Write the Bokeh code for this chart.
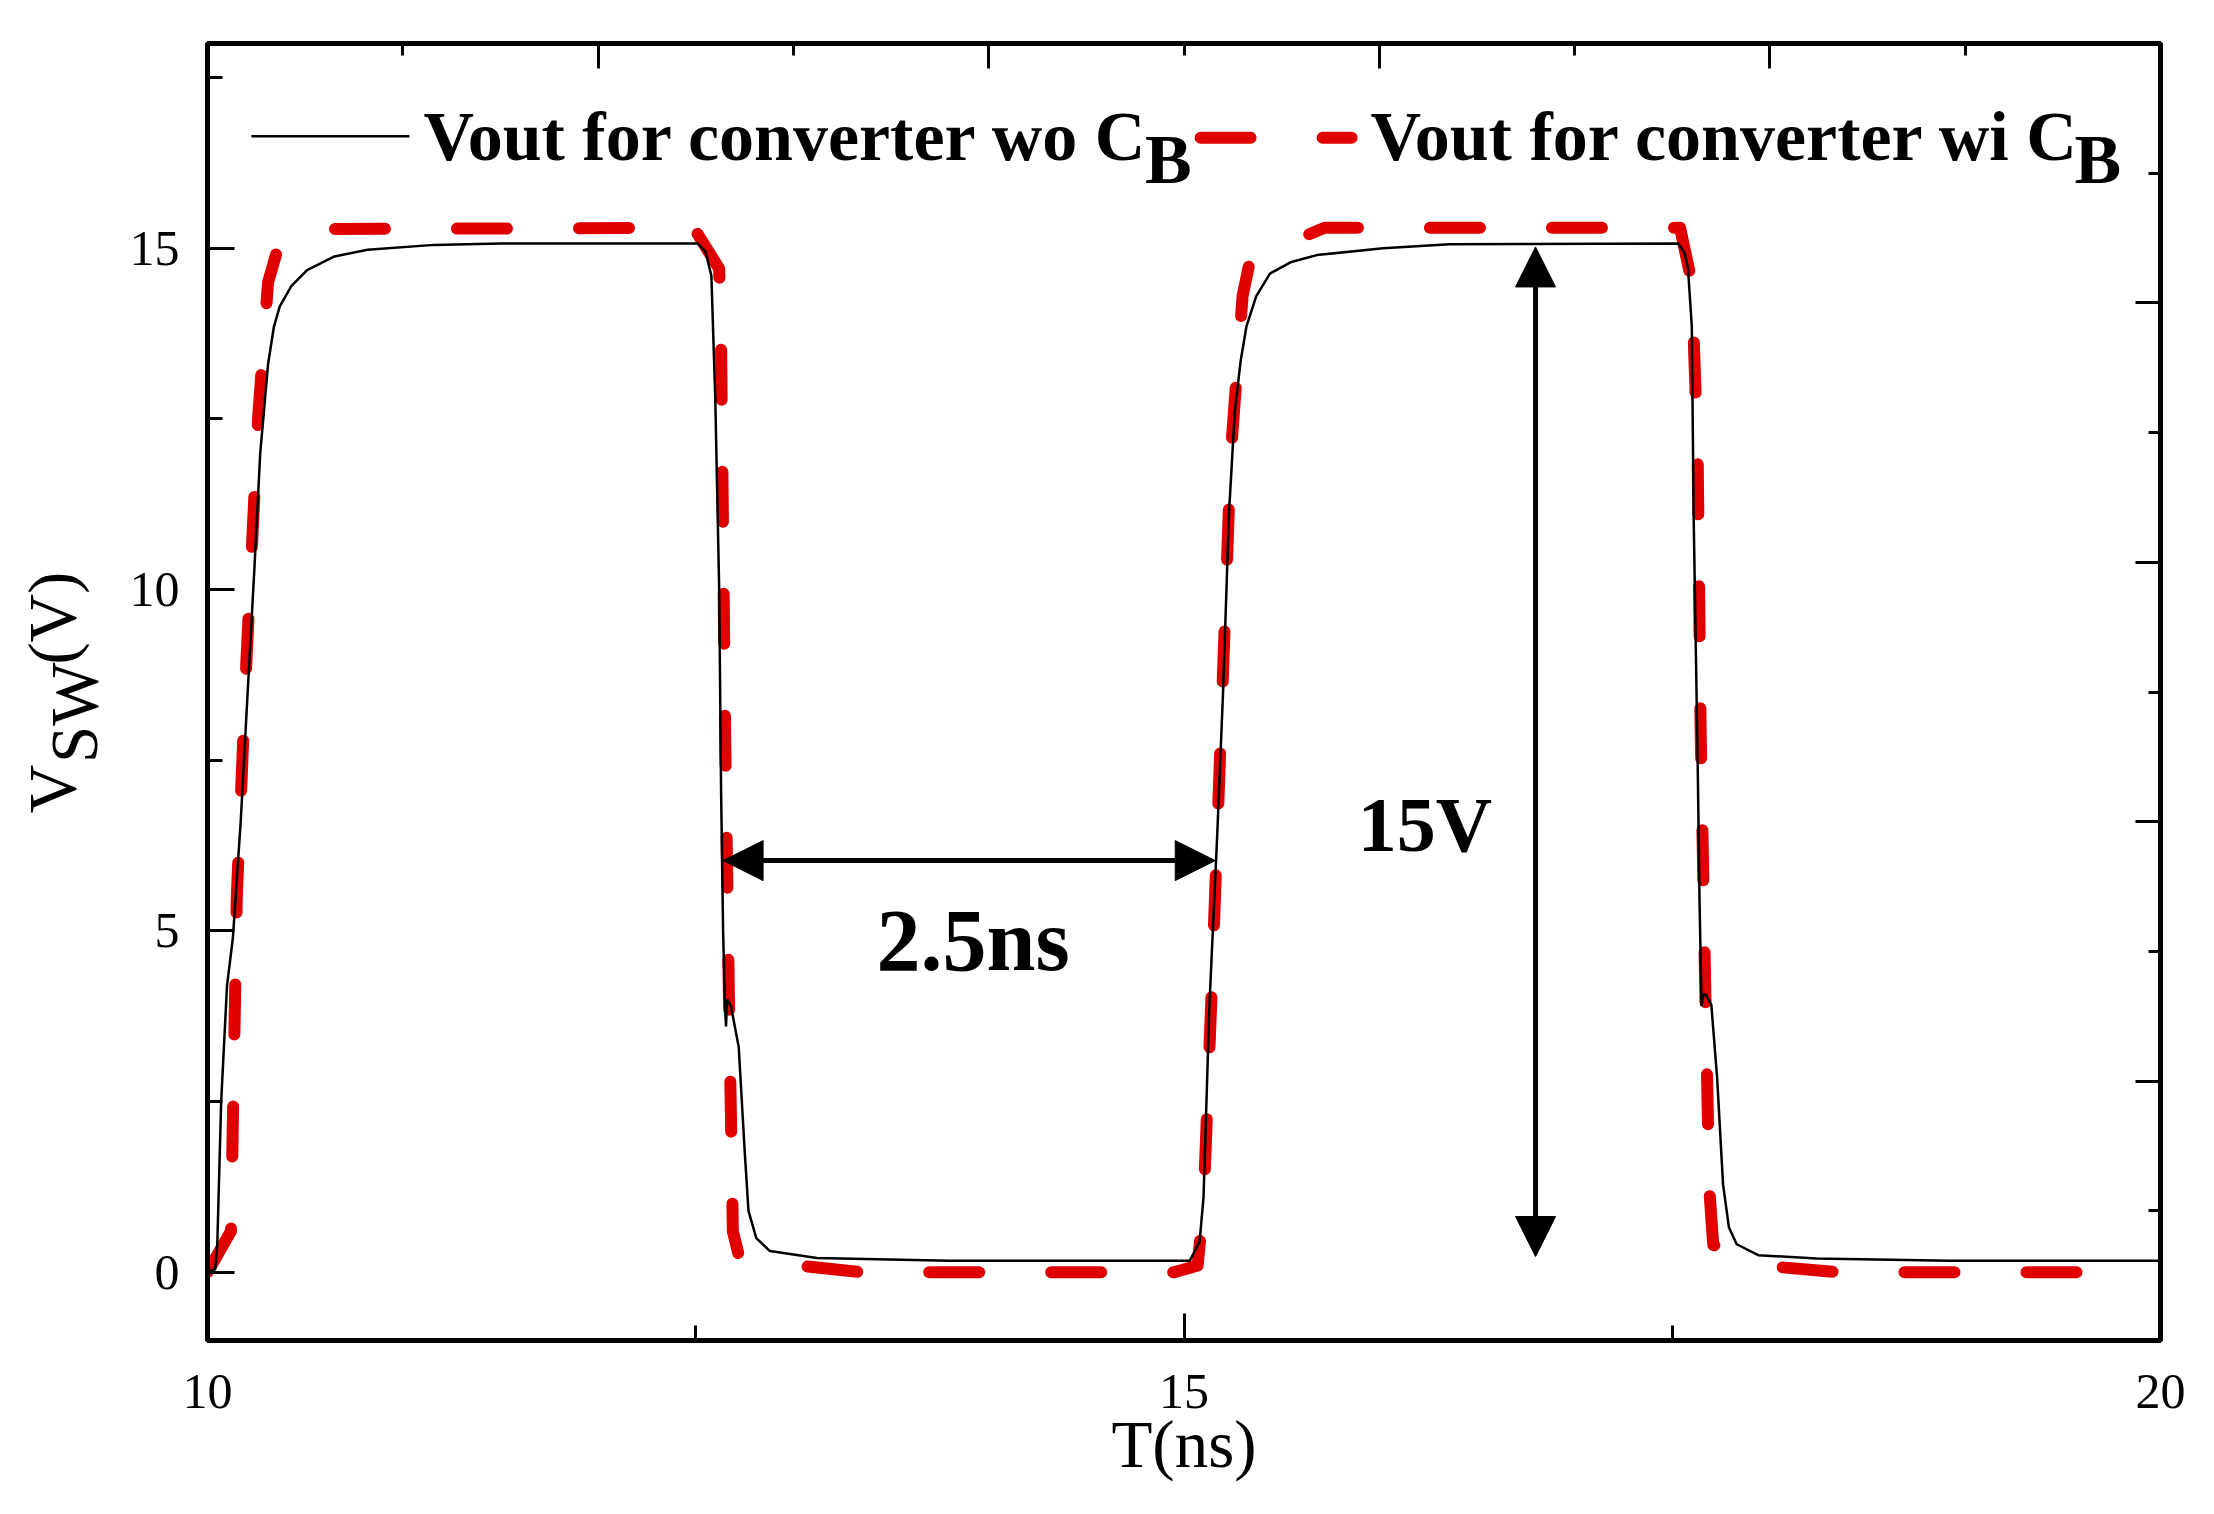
from math import pi

from bokeh.core.properties import value
from bokeh.embed import file_html
from bokeh.layouts import row
from bokeh.models import Arrow, FixedTicker, LinearAxis, NormalHead, Range1d
from bokeh.plotting import figure
from bokeh.resources import INLINE

# switching node voltage, converter without C_B (ns, V)
t_wo = [10.00, 10.04, 10.05, 10.07, 10.10, 10.13, 10.17, 10.20, 10.24, 10.27,
        10.31, 10.34, 10.37, 10.43, 10.51, 10.65, 10.82, 11.16, 11.50, 12.51,
        12.55, 12.58, 12.60, 12.62, 12.63, 12.64, 12.650, 12.655, 12.66, 12.68,
        12.72, 12.75, 12.77, 12.81, 12.88, 13.12, 13.80, 15.03, 15.08, 15.10,
        15.13, 15.17, 15.20, 15.23, 15.26, 15.29, 15.32, 15.37, 15.44, 15.55,
        15.68, 16.02, 16.36, 17.53, 17.56, 17.58, 17.60, 17.61, 17.63, 17.64,
        17.65, 17.66, 17.67, 17.70, 17.73, 17.76, 17.79, 17.83, 17.94, 18.24,
        18.92, 20.00]
v_wo = [0.00, 0.05, 0.40, 2.50, 4.20, 4.90, 6.60, 8.20, 10.30, 12.00,
        13.30, 13.85, 14.15, 14.45, 14.68, 14.88, 14.98, 15.05, 15.07, 15.07,
        14.95, 14.60, 12.80, 10.00, 7.00, 5.00, 3.90, 3.60, 4.00, 3.90,
        3.30, 1.80, 0.90, 0.50, 0.31, 0.21, 0.17, 0.17, 0.45, 1.10,
        3.90, 6.40, 8.50, 11.10, 12.60, 13.35, 13.86, 14.30, 14.63, 14.80,
        14.90, 15.00, 15.06, 15.07, 14.95, 14.73, 13.86, 11.00, 7.50, 5.40,
        3.90, 4.07, 4.07, 3.92, 2.84, 1.29, 0.66, 0.41, 0.25, 0.20,
        0.17, 0.17]

# switching node voltage, converter with C_B (ns, V)
t_wi = [10.00, 10.12, 10.15, 10.20, 10.26, 10.31, 10.36, 10.45, 12.49, 12.62,
        12.63, 12.65, 12.67, 12.69, 12.72, 12.95, 13.35, 14.95, 15.07, 15.10,
        15.14, 15.19, 15.24, 15.30, 15.34, 15.72, 17.54, 17.60, 17.63, 17.645,
        17.67, 17.69, 17.71, 18.03, 18.35, 19.92]
v_wi = [0.00, 0.60, 5.50, 9.00, 12.55, 14.50, 15.00, 15.28, 15.30, 14.70,
        13.50, 8.00, 4.00, 0.60, 0.25, 0.12, 0.00, 0.00, 0.10, 1.00,
        4.00, 8.00, 12.00, 14.30, 14.85, 15.30, 15.30, 14.50, 12.00, 8.00,
        4.00, 1.20, 0.40, 0.08, 0.00, 0.00]

x_ticks = [10, 15, 20]
x_minor = [12.5, 17.5]
y_ticks = [0, 5, 10, 15]
y_minor = [2.5, 7.5, 12.5, 17.5]
top_ticks = [12, 14, 16, 18]
top_minor = [11, 13, 15, 17, 19]
right_ticks = [0, 1, 2, 3]
right_minor = [-0.5, 0.5, 1.5, 2.5, 3.5]

legend_labels = ["Vout for converter wo C", "Vout for converter wi C"]
legend_sub = "B"
width_label = "2.5ns"
height_label = "15V"
x_title = "T(ns)"
y_title = ["V", "SW", "(V)"]

FONT = "Liberation Serif"
RED = "#E10000"
LEFT_W = 110

p = figure(frame_width=1953, frame_height=1297,
           x_range=Range1d(10, 20), y_range=Range1d(-1, 18),
           x_axis_location=None, y_axis_location=None,
           min_border_left=207 - LEFT_W, min_border_right=38,
           min_border_top=43, min_border_bottom=150,
           output_backend="svg", toolbar_location=None)
p.extra_y_ranges = {"right": Range1d(-1, 4)}
p.grid.visible = False
p.outline_line_color = "black"
p.outline_line_width = 5
p.background_fill_color = "white"
p.border_fill_color = "white"


def make_axis(ax, major, minor, major_len, minor_len, labels=True):
    ax.ticker = FixedTicker(ticks=major, minor_ticks=minor)
    ax.axis_line_width = 5
    ax.major_tick_line_width = 3
    ax.minor_tick_line_width = 3
    ax.major_tick_in = major_len
    ax.major_tick_out = 0
    ax.minor_tick_in = minor_len
    ax.minor_tick_out = 0
    ax.major_label_text_font = FONT
    ax.major_label_text_font_size = "50px"
    ax.major_label_text_color = "black"
    ax.major_label_standoff = 28
    if not labels:
        ax.major_label_overrides = {t: "" for t in major}
    return ax


xaxis = make_axis(LinearAxis(), x_ticks, x_minor, 27, 15)
xaxis.major_label_standoff = 34
xaxis.axis_label = x_title
xaxis.axis_label_text_font = FONT
xaxis.axis_label_text_font_style = "normal"
xaxis.axis_label_text_font_size = "67px"
xaxis.axis_label_text_color = "black"
xaxis.axis_label_standoff = -4
p.add_layout(xaxis, "below")
p.add_layout(make_axis(LinearAxis(), y_ticks, y_minor, 27, 15), "left")
p.add_layout(make_axis(LinearAxis(), top_ticks, top_minor, 25, 12, False), "above")
p.add_layout(make_axis(LinearAxis(y_range_name="right"), right_ticks, right_minor,
                       25, 12, False), "right")

p.line(t_wi, v_wi, line_color=RED, line_width=12, line_dash="50 72",
       line_cap="round", line_join="round")
p.line(t_wo, v_wo, line_color="black", line_width=2.5)

# legend
p.line([10.225, 11.034], [16.64, 16.64], line_color="black", line_width=2.5)
p.line([15.085, 15.858], [16.62, 16.62], line_color=RED, line_width=12,
       line_dash="50 72", line_cap="round")
p.text(x=[11.106, 15.955], y=[16.64, 16.64], text=legend_labels,
       text_font=value(FONT), text_font_style="bold", text_font_size="70px",
       text_align="left", text_baseline="alphabetic", text_color="black")
p.text(x=[14.80, 19.56], y=[16.30, 16.30], text=[legend_sub, legend_sub],
       text_font=value(FONT), text_font_style="bold", text_font_size="70px",
       text_align="left", text_baseline="alphabetic", text_color="black")

# annotations
p.add_layout(Arrow(start=NormalHead(size=40, fill_color="black"),
                   end=NormalHead(size=40, fill_color="black"),
                   x_start=12.64, y_start=6.03, x_end=15.16, y_end=6.03,
                   line_width=5, line_color="black"))
p.add_layout(Arrow(start=NormalHead(size=40, fill_color="black"),
                   end=NormalHead(size=40, fill_color="black"),
                   x_start=16.80, y_start=0.23, x_end=16.80, y_end=15.02,
                   line_width=5, line_color="black"))
p.text(x=[13.92], y=[4.86], text=[width_label], text_font=value(FONT),
       text_font_style="bold", text_font_size="88px", text_align="center",
       text_baseline="alphabetic", text_color="black")
p.text(x=[15.89], y=[6.56], text=[height_label], text_font=value(FONT),
       text_font_style="bold", text_font_size="78px", text_align="left",
       text_baseline="alphabetic", text_color="black")

# y axis title with subscript, drawn in a narrow strip left of the plot
lab = figure(frame_width=LEFT_W, frame_height=1297,
             x_range=Range1d(0, LEFT_W), y_range=Range1d(-1, 18),
             x_axis_location=None, y_axis_location=None,
             min_border_left=0, min_border_right=0,
             min_border_top=43, min_border_bottom=150,
             output_backend="svg", toolbar_location=None)
lab.grid.visible = False
lab.outline_line_color = None
lab.text(x=[51, 73, 51], y=[6.725, 7.46, 8.90], text=y_title, angle=pi / 2,
         text_font=value(FONT), text_font_size="67px", text_align="left",
         text_baseline="alphabetic", text_color="black")

open("out.html", "w").write(file_html(row(lab, p), INLINE))
